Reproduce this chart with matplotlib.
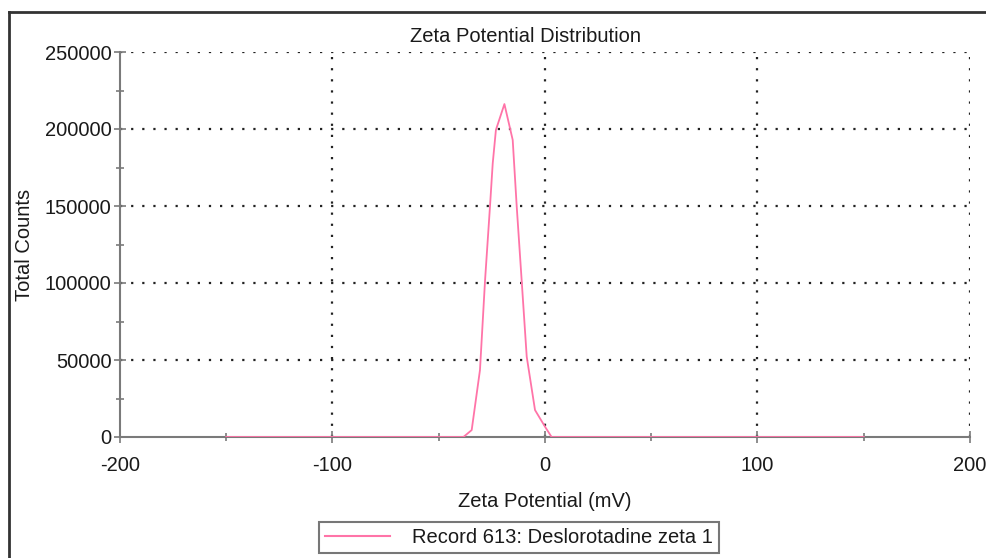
import matplotlib
matplotlib.use("Agg")
import matplotlib.pyplot as plt
from matplotlib.lines import Line2D
from matplotlib.ticker import MultipleLocator

plt.rcParams['font.family'] = ['Liberation Sans', 'DejaVu Sans']

# Data
zeta_mv = [-150, -100, -50, -38.4, -34.5, -30.6, -28.2, -25.9, -24.6, -23.1, -19.1,
           -15.2, -13.3, -11.0, -8.6, -4.7, 0.0, 3.1, 50, 100, 150]
counts = [0, 0, 0, 0, 4500, 43500, 102000, 149500, 177700, 199400, 216200,
          192900, 149500, 102000, 52100, 17500, 6700, 0, 0, 0, 0]
x_major = [-200, -100, 0, 100, 200]
y_major = [0, 50000, 100000, 150000, 200000, 250000]
title = "Zeta Potential Distribution"
xlabel = "Zeta Potential (mV)"
ylabel = "Total Counts"
series_label = "Record 613: Deslorotadine zeta 1"

W, H = 987, 558
fig = plt.figure(figsize=(W / 100, H / 100), dpi=100)
ax = fig.add_axes([120 / W, 1 - 437 / H, 850 / W, 385 / H])

pink = '#ff74a8'
gray = '#7a7a7a'
txt = '#1a1a1a'
fs = 14.5

ax.plot(zeta_mv, counts, color=pink, lw=1.3, zorder=4, label=series_label)

ax.set_xlim(-200, 200)
ax.set_ylim(0, 250000)
ax.set_xticks(x_major)
ax.set_xticklabels([str(v) for v in x_major])
ax.set_yticks(y_major)
ax.set_yticklabels([str(v) for v in y_major])
ax.xaxis.set_minor_locator(MultipleLocator(50))
ax.yaxis.set_minor_locator(MultipleLocator(25000))

for s in ['top', 'right']:
    ax.spines[s].set_visible(False)
for s in ['left', 'bottom']:
    ax.spines[s].set_color(gray)
    ax.spines[s].set_linewidth(1.5)
    ax.spines[s].set_zorder(3)

ax.tick_params(which='both', direction='inout', color=gray, width=1.2)
ax.tick_params(which='major', length=8, labelsize=fs, labelcolor=txt)
ax.tick_params(which='minor', length=6)
ax.tick_params(axis='y', which='major', pad=2)
ax.tick_params(axis='x', which='major', pad=10)

# dotted grid at major positions
for xv in x_major[1:]:
    ax.axvline(xv, color='#222222', lw=1.6, ls=(0, (1, 4)), zorder=1)
for yv in y_major[1:]:
    ax.axhline(yv, color='#222222', lw=1.6, ls=(0, (1, 4)), zorder=1)

t = ax.set_title(title, fontsize=fs, pad=7, color=txt)
t.set_x((526 - 120) / 850)
ax.set_xlabel(xlabel, fontsize=fs, labelpad=12, color=txt)
fig.text(25 / W, 1 - 245 / H, ylabel, rotation=90, ha='center', va='center',
         fontsize=fs, color=txt)

leg = fig.legend(handles=[Line2D([], [], color=pink, lw=1.5)], labels=[series_label],
                 loc='upper center', bbox_to_anchor=(519 / W, 1 - 522 / H),
                 fontsize=fs, frameon=True, fancybox=False, handlelength=3.2,
                 handletextpad=1.1, borderpad=0.3, borderaxespad=0)
leg.get_frame().set_edgecolor('#555555')
leg.get_frame().set_linewidth(1.5)
for tx in leg.get_texts():
    tx.set_color(txt)

# outer frame (left and top edges visible)
fig.add_artist(Line2D([9 / W, 9 / W], [0, 1 - 12 / H], color='#333333', lw=2,
                      transform=fig.transFigure))
fig.add_artist(Line2D([9 / W, 1], [1 - 12 / H, 1 - 12 / H], color='#333333', lw=2,
                      transform=fig.transFigure))

fig.savefig('out.png', dpi=100)
